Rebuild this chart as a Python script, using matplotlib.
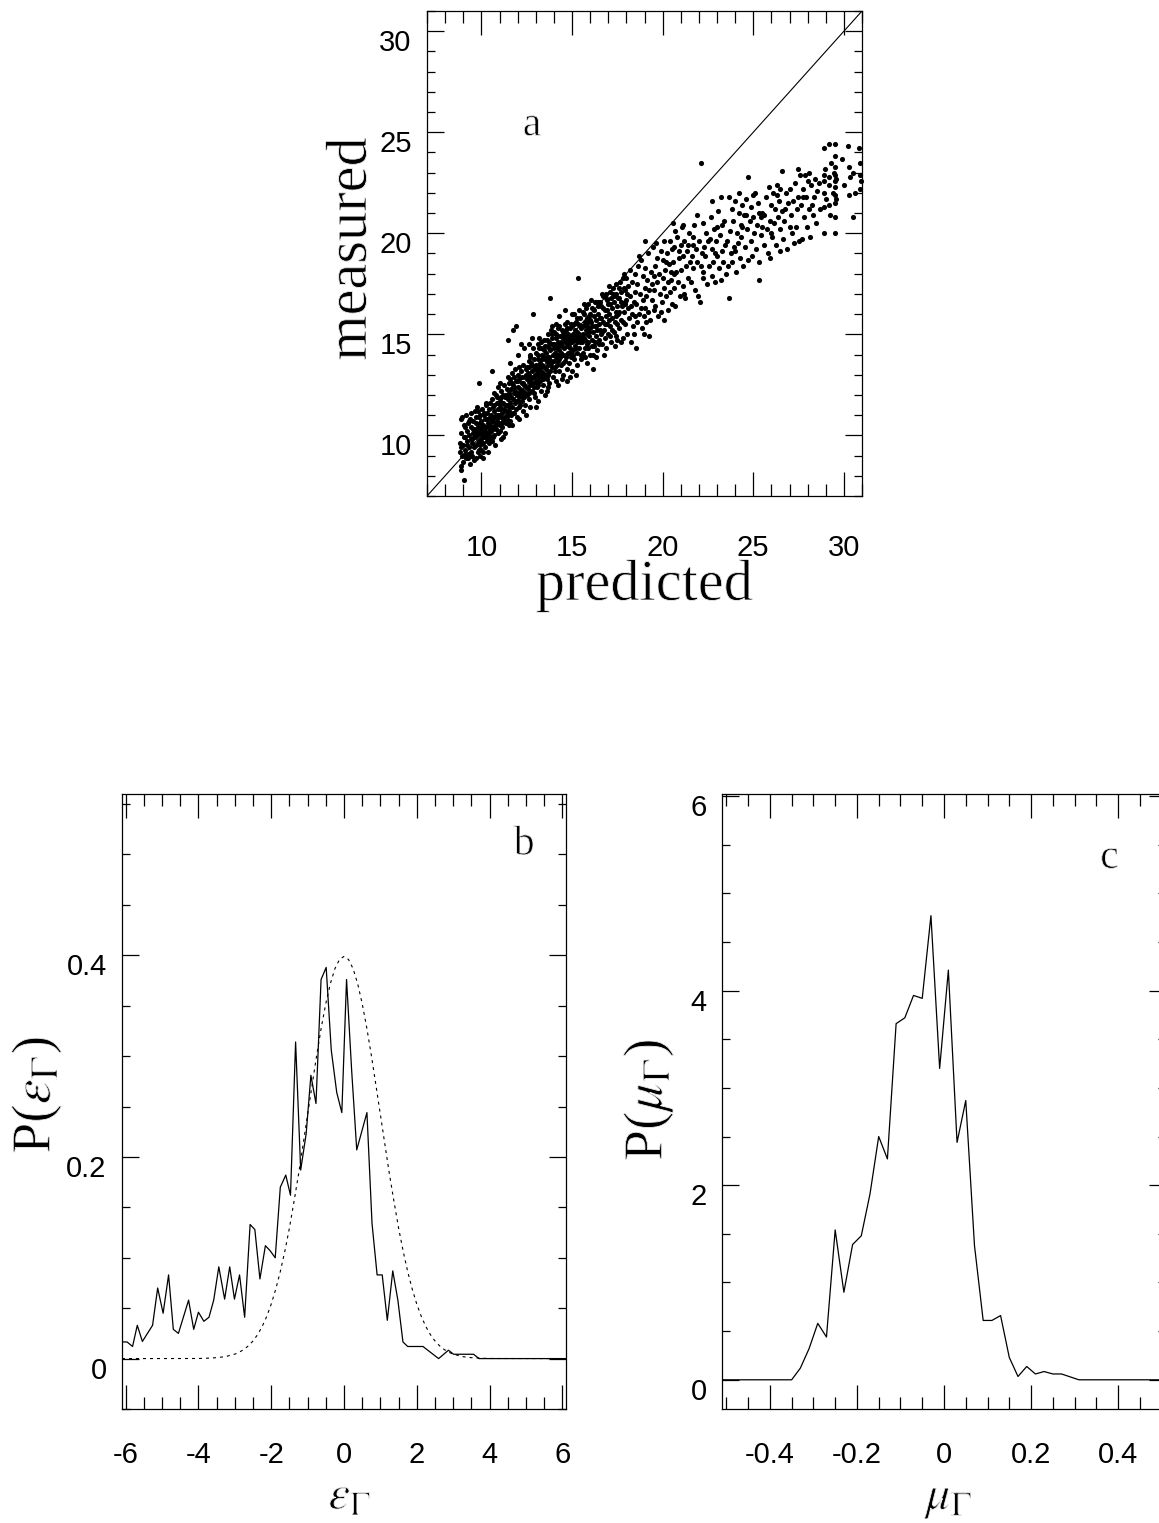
import matplotlib
matplotlib.use('Agg')
import matplotlib.pyplot as plt
from matplotlib import patheffects
from matplotlib.ticker import MultipleLocator, FuncFormatter
from matplotlib.transforms import ScaledTranslation

# ---------------- data ----------------
# panel a: predicted vs measured scatter, (predicted, measured) pairs
pts_09_11 = [
    (8.8, 9.2), (8.8, 9.6), (8.85, 8.3), (8.85, 8.5), (8.9, 9.4), (8.9, 10.1), (8.95, 9.0), (8.95, 10.9), (9.0, 9.5), (9.0, 8.7),
    (9.05, 7.8), (9.05, 10.5), (9.1, 9.9), (9.1, 9.3), (9.15, 11.0), (9.15, 8.9), (9.2, 10.2), (9.2, 9.7), (9.25, 9.1), (9.25, 10.6),
    (9.3, 9.4), (9.3, 10.0), (9.35, 8.6), (9.35, 10.8), (9.4, 9.8), (9.4, 9.2), (9.45, 10.4), (9.45, 11.1), (9.5, 9.6), (9.5, 9.0),
    (9.55, 10.1), (9.55, 10.7), (9.6, 9.4), (9.6, 8.8), (8.9, 10.8),
    (9.6, 10.3), (9.65, 9.9), (9.65, 11.2), (9.7, 9.5), (9.7, 10.6), (9.7, 8.9), (9.75, 10.0), (9.75, 11.4), (9.8, 9.2), (9.8, 10.4),
    (9.85, 9.7), (9.85, 10.9), (9.9, 10.1), (9.9, 9.0), (9.9, 11.0), (9.95, 9.5), (9.95, 10.3), (10.0, 9.8), (10.0, 10.7), (10.0, 9.3),
    (10.05, 10.0), (10.05, 11.3), (10.1, 9.6), (10.1, 10.5), (10.1, 8.9), (10.15, 10.2), (10.15, 11.0), (10.2, 9.4), (10.2, 10.8), (10.2, 9.9),
    (10.25, 10.4), (10.25, 11.5), (10.3, 9.7), (10.3, 10.1), (10.3, 11.1), (10.35, 9.2), (10.35, 10.6), (10.4, 10.0), (10.4, 11.3), (10.4, 9.6),
    (10.45, 10.3), (10.45, 10.9), (10.5, 9.9), (10.5, 11.6), (10.5, 10.5), (9.87, 12.6), (10.0, 10.1), (10.2, 10.2), (9.8, 11.2), (10.1, 9.2),
    (10.55, 10.2), (10.55, 11.0), (10.6, 9.7), (10.6, 10.7), (10.6, 11.8), (10.65, 10.4), (10.65, 9.9), (10.7, 11.2), (10.7, 10.0), (10.7, 12.1),
    (10.75, 10.6), (10.75, 9.5), (10.8, 11.0), (10.8, 10.3), (10.85, 11.6), (10.85, 10.8), (10.9, 10.1), (10.9, 11.3), (10.9, 12.4), (10.95, 10.6),
    (11.0, 11.0), (11.0, 10.2), (11.0, 11.8), (11.05, 10.5), (11.05, 11.4), (11.1, 10.9), (11.1, 9.8), (11.1, 12.2), (11.15, 11.1), (11.15, 10.4),
    (11.2, 11.6), (11.2, 10.7), (11.25, 11.3), (11.25, 12.5), (11.3, 10.9), (11.3, 10.1), (11.3, 11.9), (11.35, 11.2), (11.35, 10.6), (11.4, 11.5),
    (11.4, 12.3), (11.4, 10.8), (11.45, 11.0), (11.45, 11.8), (11.5, 10.5), (11.5, 11.4), (11.5, 12.6), (10.57, 13.2), (10.8, 12.0), (11.2, 9.9),
    (11.0, 12.6), (10.65, 11.4), (11.35, 12.0), (10.95, 11.6), (11.1, 11.6),
]
pts_12_14 = [
    (11.55, 11.2), (11.55, 12.0), (11.6, 10.7), (11.6, 11.6), (11.6, 12.8), (11.65, 11.0), (11.65, 12.3), (11.7, 11.4), (11.7, 10.5), (11.7, 13.1),
    (11.75, 11.8), (11.75, 12.5), (11.8, 11.1), (11.8, 12.1), (11.85, 11.6), (11.85, 13.3), (11.9, 11.3), (11.9, 12.7), (11.95, 12.0), (11.95, 10.9),
    (12.0, 11.7), (12.0, 12.4), (12.0, 13.0), (12.05, 11.4), (12.05, 12.1), (12.1, 11.9), (12.1, 12.8), (12.1, 10.8), (12.15, 12.3), (12.15, 11.5),
    (12.2, 12.0), (12.2, 13.2), (12.25, 11.7), (12.25, 12.6), (12.3, 12.2), (12.3, 11.2), (12.3, 13.5), (12.35, 12.5), (12.35, 11.9), (12.4, 12.9),
    (12.4, 12.1), (12.4, 11.5), (12.45, 12.4), (12.45, 13.3), (12.5, 12.0), (12.5, 12.8), (11.49, 14.7), (11.76, 15.2), (11.9, 15.4), (12.2, 14.5),
    (12.0, 14.0), (11.6, 13.6), (12.35, 14.3), (12.45, 11.0), (11.8, 12.9),
    (12.55, 12.3), (12.55, 13.1), (12.6, 11.8), (12.6, 12.7), (12.6, 13.7), (12.65, 12.1), (12.65, 13.4), (12.7, 12.5), (12.7, 11.4), (12.7, 14.0),
    (12.75, 12.9), (12.75, 13.6), (12.8, 12.2), (12.8, 13.2), (12.85, 12.6), (12.85, 14.3), (12.87, 16.0), (12.9, 12.4), (12.9, 13.8), (12.95, 13.0),
    (12.95, 11.9), (13.0, 12.7), (13.0, 13.5), (13.0, 14.1), (13.05, 12.4), (13.05, 13.1), (13.1, 12.9), (13.1, 13.8), (13.1, 11.7), (13.15, 13.3),
    (13.15, 12.5), (13.2, 13.0), (13.2, 14.3), (13.25, 12.7), (13.25, 13.6), (13.3, 13.2), (13.3, 12.2), (13.3, 14.6), (13.35, 13.5), (13.35, 12.9),
    (13.4, 13.9), (13.4, 13.1), (13.4, 12.5), (13.45, 13.4), (13.45, 14.2), (13.5, 13.0), (13.5, 13.8), (13.5, 12.0), (12.8, 14.8), (13.2, 14.8),
    (12.6, 14.5), (13.0, 11.4), (13.35, 14.0), (12.9, 13.3), (13.1, 14.5),
    (13.55, 13.3), (13.55, 14.1), (13.6, 12.8), (13.6, 13.7), (13.6, 14.7), (13.65, 13.1), (13.65, 14.4), (13.7, 13.5), (13.7, 12.4), (13.7, 15.0),
    (13.75, 13.9), (13.75, 14.6), (13.8, 13.2), (13.8, 14.2), (13.8, 16.8), (13.85, 13.6), (13.85, 15.2), (13.9, 13.4), (13.9, 14.8), (13.95, 14.0),
    (13.95, 12.9), (14.0, 13.7), (14.0, 14.5), (14.0, 15.1), (14.05, 13.4), (14.05, 14.1), (14.1, 13.9), (14.1, 14.8), (14.1, 12.7), (14.15, 14.3),
    (14.15, 13.5), (14.2, 14.0), (14.2, 15.3), (14.25, 13.7), (14.25, 14.6), (14.28, 15.9), (14.3, 14.2), (14.3, 13.2), (14.35, 14.5), (14.35, 13.9),
    (14.4, 14.9), (14.4, 14.1), (14.4, 13.5), (14.45, 14.4), (14.45, 15.2), (14.5, 14.0), (14.5, 14.8), (14.5, 13.0), (13.6, 12.2), (14.2, 12.5),
    (13.9, 15.4), (14.1, 15.5), (14.3, 15.4), (13.75, 12.6), (14.45, 12.8),
]
pts_15_19 = [
    (14.55, 14.3), (14.55, 15.0), (14.6, 13.7), (14.6, 14.6), (14.6, 15.5), (14.65, 14.0), (14.65, 15.2), (14.7, 14.4), (14.7, 13.3), (14.75, 14.8),
    (14.75, 15.6), (14.8, 14.1), (14.8, 15.0), (14.85, 14.5), (14.85, 13.6), (14.9, 14.3), (14.9, 15.3), (14.95, 14.8), (14.95, 13.9), (15.0, 14.6),
    (15.0, 15.4), (15.0, 13.2), (15.05, 14.2), (15.05, 15.0), (15.1, 14.7), (15.1, 13.8), (15.15, 15.2), (15.15, 14.4), (15.2, 14.9), (15.2, 15.6),
    (15.25, 14.1), (15.25, 14.6), (15.3, 15.1), (15.3, 13.5), (15.33, 17.8), (15.35, 14.8), (15.35, 15.5), (15.4, 14.3), (15.4, 15.0), (15.45, 14.6),
    (15.45, 15.8), (15.5, 14.0), (15.5, 15.3), (14.7, 12.7), (15.2, 13.0), (15.0, 16.0), (14.9, 12.9), (15.4, 16.2), (14.6, 16.2), (15.1, 16.0),
    (15.55, 14.6), (15.55, 15.4), (15.6, 14.1), (15.6, 15.0), (15.6, 16.1), (15.65, 14.8), (15.7, 15.6), (15.7, 13.9), (15.75, 15.2), (15.75, 16.3),
    (15.8, 14.5), (15.8, 15.8), (15.85, 15.0), (15.9, 14.3), (15.9, 15.6), (15.9, 16.5), (15.95, 14.9), (16.0, 15.3), (16.0, 14.0), (16.0, 16.0),
    (16.05, 15.6), (16.1, 14.7), (16.1, 16.3), (16.14, 13.3), (16.15, 15.1), (16.2, 15.9), (16.2, 14.4), (16.25, 15.4), (16.3, 16.6), (16.3, 14.9),
    (16.35, 15.7), (16.4, 15.2), (16.4, 14.2), (16.45, 16.0), (16.5, 15.5), (16.5, 14.7), (15.65, 16.5), (16.05, 16.7), (15.85, 13.6), (16.35, 13.9),
    (16.25, 16.6), (15.95, 15.9), (16.45, 16.6), (15.7, 14.3), (16.15, 14.0),
    (16.55, 15.8), (16.6, 15.0), (16.6, 16.4), (16.65, 14.5), (16.7, 15.6), (16.7, 16.9), (16.75, 15.2), (16.8, 16.2), (16.8, 14.8), (16.85, 15.9),
    (16.9, 17.0), (16.9, 14.3), (16.95, 15.5), (17.0, 16.5), (17.0, 15.0), (17.05, 16.0), (17.1, 17.1), (17.1, 15.4), (17.15, 14.6), (17.2, 16.3),
    (17.2, 15.8), (17.25, 17.3), (17.3, 15.1), (17.3, 16.6), (17.35, 15.6), (17.4, 16.1), (17.4, 17.5), (17.45, 14.9), (17.5, 16.4), (17.5, 15.5),
    (16.65, 17.0), (17.05, 17.4), (16.75, 14.0), (17.35, 14.4), (16.95, 16.7), (17.15, 16.8), (16.55, 16.6), (17.45, 17.0),
    (17.55, 16.0), (17.6, 15.3), (17.6, 16.8), (17.65, 17.6), (17.7, 15.7), (17.75, 16.4), (17.8, 17.8), (17.8, 14.8), (17.85, 16.1), (17.9, 17.2),
    (17.95, 15.5), (18.0, 16.7), (18.0, 17.8), (18.05, 15.0), (18.1, 16.3), (18.1, 17.4), (18.15, 15.8), (18.2, 16.9), (18.25, 14.6), (18.3, 16.0),
    (18.3, 17.6), (18.35, 15.4), (18.4, 16.6), (18.45, 18.0), (18.5, 15.9), (18.5, 17.1), (17.7, 14.6), (18.2, 18.2), (17.95, 16.6), (18.4, 15.0),
    (17.6, 17.3), (18.05, 17.0), (18.53, 14.3), (17.85, 18.0), (18.25, 16.4),
    (18.55, 16.5), (18.6, 17.5), (18.6, 15.6), (18.65, 18.4), (18.7, 16.0), (18.75, 17.0), (18.8, 18.7), (18.85, 15.3), (18.9, 16.7), (18.9, 17.9),
    (18.95, 15.9), (19.0, 17.3), (19.0, 16.3), (19.05, 18.3), (19.1, 15.6), (19.1, 16.9), (19.15, 17.7), (19.2, 16.1), (19.2, 19.0), (19.25, 17.2),
    (19.27, 14.9), (19.3, 15.7), (19.35, 18.1), (19.4, 16.7), (19.4, 17.5), (19.45, 19.3), (19.5, 16.2), (19.5, 17.9), (18.7, 18.9), (18.95, 15.0),
    (18.8, 16.3), (19.05, 19.6),
]
pts_dense_extra = [
    (9.02, 9.9), (9.12, 10.4), (9.22, 9.5), (9.32, 10.7), (9.42, 9.0), (9.52, 10.3), (9.62, 9.9), (9.72, 10.9), (9.82, 9.6), (9.92, 10.6),
    (9.08, 9.1), (9.28, 8.9), (9.48, 9.8), (9.68, 10.2), (9.88, 9.3),
    (10.02, 10.4), (10.12, 11.1), (10.22, 10.0), (10.32, 10.8), (10.42, 9.8), (10.52, 10.8), (10.62, 10.3), (10.72, 11.5), (10.82, 10.5), (10.92, 11.0),
    (10.08, 9.9), (10.28, 11.6), (10.48, 10.2), (10.68, 10.9), (10.88, 11.9),
    (11.02, 11.3), (11.12, 10.6), (11.22, 12.0), (11.32, 11.5), (11.42, 11.0), (11.52, 12.1), (11.62, 11.9), (11.72, 11.1), (11.82, 12.4), (11.92, 11.7),
    (11.08, 11.9), (11.28, 10.7), (11.48, 12.9), (11.68, 12.6), (11.88, 12.2),
    (12.02, 12.7), (12.12, 12.1), (12.22, 12.9), (12.32, 12.6), (12.42, 12.0), (12.52, 13.4), (12.62, 13.0), (12.72, 12.8), (12.82, 13.5), (12.92, 12.9),
    (12.08, 13.4), (12.28, 11.9), (12.48, 13.0), (12.68, 13.9), (12.88, 12.1),
    (13.02, 13.3), (13.12, 14.0), (13.22, 13.4), (13.32, 13.8), (13.42, 12.8), (13.52, 14.4), (13.62, 13.9), (13.72, 14.3), (13.82, 13.7), (13.92, 14.5),
    (13.08, 12.6), (13.28, 14.3), (13.48, 14.7), (13.68, 13.0), (13.88, 15.0),
    (14.02, 14.3), (14.12, 15.0), (14.22, 14.4), (14.32, 14.9), (14.42, 14.6), (14.52, 15.1), (14.62, 14.9), (14.72, 15.3), (14.82, 14.7), (14.92, 15.5),
    (14.08, 13.2), (14.28, 13.8), (14.48, 13.6), (14.68, 13.9), (14.88, 14.1),
    (15.02, 14.9), (15.12, 15.5), (15.22, 14.3), (15.32, 14.8), (15.42, 15.4), (15.52, 14.8), (15.62, 15.4), (15.72, 14.7), (15.82, 15.4), (15.92, 15.1),
    (15.08, 14.0), (15.28, 15.8), (15.48, 13.8), (15.68, 16.0), (15.88, 14.6),
    (16.02, 15.7), (16.12, 15.4), (16.22, 16.2), (16.32, 15.4), (16.42, 16.4), (16.52, 15.2), (16.62, 15.8), (16.72, 16.3), (16.82, 15.5), (16.92, 16.2),
    (16.08, 14.4), (16.28, 14.6), (16.48, 14.5), (16.68, 15.1), (16.88, 16.8),
    (17.02, 15.7), (17.12, 16.5), (17.22, 15.2), (17.32, 16.9), (17.42, 15.9), (17.52, 16.8), (17.62, 16.1), (17.72, 17.1), (17.82, 15.6), (17.92, 16.5),
    (17.08, 14.9), (17.28, 17.0), (17.48, 14.7), (17.68, 16.6), (17.88, 17.3),
]
pts_20_25 = [
    (19.55, 17.2), (19.6, 18.4), (19.6, 16.4), (19.65, 19.5), (19.7, 17.6), (19.75, 15.9), (19.8, 18.0), (19.85, 17.0), (19.9, 19.1), (19.95, 16.6),
    (20.0, 17.8), (20.0, 18.7), (20.05, 15.7), (20.1, 17.3), (20.1, 19.6), (20.15, 18.2), (20.2, 16.9), (20.25, 19.0), (20.3, 17.6), (20.3, 16.2),
    (20.35, 18.5), (20.4, 19.6), (20.4, 17.1), (20.45, 18.1), (20.5, 16.5), (20.5, 19.2), (19.7, 18.8), (20.2, 18.6), (19.9, 16.1), (20.45, 17.7),
    (20.55, 18.6), (20.59, 20.5), (20.6, 17.3), (20.65, 19.3), (20.7, 16.4), (20.75, 18.1), (20.8, 19.8), (20.85, 17.6), (20.9, 18.8), (20.95, 16.9),
    (21.0, 19.4), (21.0, 18.2), (21.05, 20.3), (21.1, 17.4), (21.15, 18.9), (21.2, 19.6), (21.25, 16.8), (21.3, 18.4), (21.35, 19.1), (21.4, 17.8),
    (21.45, 20.0), (21.5, 18.6), (20.7, 20.1), (21.2, 17.0), (20.9, 19.1), (21.4, 19.4), (20.6, 18.0), (21.1, 20.4),
    (21.55, 17.6), (21.6, 18.9), (21.65, 19.8), (21.7, 18.3), (21.75, 20.4), (21.8, 17.2), (21.85, 19.2), (21.9, 18.6), (21.95, 16.9), (22.0, 19.6),
    (22.06, 16.6), (22.1, 23.5), (22.1, 18.4), (22.15, 19.0), (22.2, 20.5), (22.25, 17.8), (22.3, 19.3), (22.35, 18.9), (22.4, 20.0), (22.45, 17.5),
    (22.5, 19.6), (21.7, 19.4), (22.2, 18.1), (21.9, 20.9),
    (22.55, 18.4), (22.6, 19.7), (22.65, 20.8), (22.7, 17.9), (22.75, 19.2), (22.8, 18.6), (22.85, 20.2), (22.9, 17.6), (22.95, 19.6), (23.0, 18.9),
    (23.05, 21.1), (23.1, 18.3), (23.15, 19.9), (23.2, 17.7), (23.25, 20.4), (23.3, 19.1), (23.35, 18.6), (23.4, 20.6), (23.45, 19.4), (23.5, 18.0),
    (22.7, 21.6), (23.2, 21.8), (23.0, 20.3), (22.9, 19.0),
    (23.55, 19.6), (23.6, 18.4), (23.66, 16.8), (23.7, 20.1), (23.75, 19.0), (23.8, 21.2), (23.85, 18.6), (23.9, 20.6), (23.95, 19.3), (24.0, 21.6),
    (24.05, 18.1), (24.1, 20.0), (24.15, 19.5), (24.2, 21.0), (24.25, 18.8), (24.3, 20.4), (24.35, 19.8), (24.4, 21.4), (24.45, 18.4), (24.5, 20.9),
    (23.65, 21.8), (24.2, 22.0), (24.0, 19.1), (24.4, 20.3),
    (24.55, 19.3), (24.6, 21.7), (24.65, 20.2), (24.7, 18.7), (24.73, 22.8), (24.8, 20.6), (24.85, 19.6), (24.9, 21.3), (24.95, 18.9), (25.0, 20.8),
    (25.05, 20.0), (25.1, 22.0), (25.15, 19.2), (25.2, 20.4), (25.25, 21.5), (25.3, 18.6), (25.33, 17.7), (25.4, 20.8), (25.45, 19.9), (25.5, 21.0),
    (25.5, 20.3), (24.6, 20.9), (25.0, 21.9), (25.3, 21.0),
]
pts_26_31 = [
    (25.6, 19.4), (25.6, 20.9), (25.7, 21.8), (25.75, 20.2), (25.8, 19.0), (25.85, 22.3), (25.9, 20.6), (26.0, 21.4), (26.05, 19.8), (26.1, 22.0),
    (26.15, 20.5), (26.2, 21.2), (26.25, 19.4), (26.3, 22.4), (26.35, 20.8), (26.4, 21.6), (26.45, 20.2), (26.5, 19.1), (26.0, 20.0), (26.3, 21.9),
    (25.95, 18.8), (26.5, 22.2),
    (26.57, 23.1), (26.6, 21.1), (26.65, 19.7), (26.7, 20.6), (26.8, 22.0), (26.85, 19.2), (26.9, 21.5), (27.0, 20.3), (27.05, 22.2), (27.1, 20.9),
    (27.2, 21.6), (27.25, 19.5), (27.3, 22.5), (27.35, 20.3), (27.4, 21.2), (27.45, 23.2), (27.5, 19.6), (26.75, 21.2), (27.15, 20.0), (27.45, 21.8),
    (27.6, 22.9), (27.65, 21.4), (27.7, 19.7), (27.75, 22.2), (27.8, 20.8), (27.85, 22.9), (27.9, 21.8), (27.95, 20.3), (28.0, 22.6), (28.05, 21.2),
    (28.1, 23.0), (28.15, 19.8), (28.2, 22.4), (28.3, 20.9), (28.35, 21.8), (28.4, 22.7), (28.45, 20.5), (28.5, 22.1), (27.75, 21.8), (28.25, 21.4),
    (28.6, 22.5), (28.7, 21.2), (28.9, 24.2), (28.9, 22.9), (28.9, 22.6), (28.9, 22.0), (28.9, 21.3), (28.9, 20.0), (28.95, 23.2), (29.0, 21.7),
    (29.2, 24.4), (29.2, 22.8), (29.2, 22.4), (29.2, 21.4), (29.25, 20.9), (29.3, 23.5), (29.4, 22.0), (29.5, 24.4), (29.5, 23.8), (29.5, 23.3),
    (29.5, 22.9), (29.5, 22.6), (29.5, 22.3), (29.5, 21.9), (29.5, 21.5), (29.5, 20.8), (29.5, 20.0), (29.45, 23.0), (29.55, 22.7), (29.55, 21.7),
    (30.2, 24.3), (30.3, 23.3), (30.35, 22.8), (30.3, 21.9), (30.5, 23.0), (30.6, 22.0), (30.5, 20.8), (30.85, 24.2), (30.9, 23.5), (30.9, 22.9),
    (30.95, 22.6), (30.9, 22.2), (30.0, 22.4), (29.9, 23.7),
]
diag_ends = [7, 31]

# panel b: P(eps_Gamma) histogram line and unit gaussian (dotted)
eps_x = [-6.1, -5.96, -5.81, -5.68, -5.54, -5.26, -5.12, -4.97, -4.82, -4.69, -4.55, -4.27, -4.13, -4.0, -3.85,
         -3.71, -3.58, -3.44, -3.28, -3.14, -3.01, -2.87, -2.73, -2.58, -2.45, -2.31, -2.16, -2.03, -1.89, -1.75,
         -1.60, -1.47, -1.33, -1.19, -1.04, -0.91, -0.77, -0.63, -0.49, -0.35, -0.20, -0.06, 0.07, 0.21, 0.35,
         0.63, 0.77, 0.91, 1.05, 1.19, 1.34, 1.48, 1.62, 1.75, 2.17, 2.60, 2.87, 3.01, 3.56, 3.71, 6.1]
eps_p = [0.0165, 0.0165, 0.012, 0.033, 0.017, 0.033, 0.070, 0.045, 0.083, 0.029, 0.025, 0.058, 0.029, 0.046, 0.037,
         0.041, 0.058, 0.091, 0.059, 0.091, 0.059, 0.083, 0.041, 0.133, 0.128, 0.079, 0.112, 0.107, 0.100, 0.170,
         0.182, 0.162, 0.314, 0.187, 0.223, 0.281, 0.253, 0.376, 0.388, 0.306, 0.264, 0.244, 0.376, 0.286, 0.207,
         0.244, 0.134, 0.083, 0.083, 0.038, 0.087, 0.058, 0.0165, 0.012, 0.012, 0.0, 0.0083, 0.0043, 0.0043, 0.0, 0.0]
gauss_abs_x = [0.0, 0.125, 0.25, 0.375, 0.5, 0.625, 0.75, 0.875, 1.0, 1.125, 1.25, 1.375, 1.5, 1.625, 1.75, 1.875,
               2.0, 2.125, 2.25, 2.375, 2.5, 2.625, 2.75, 2.875, 3.0, 3.25, 3.5, 3.75, 4.0, 6.1]
gauss_p = [0.3989, 0.3958, 0.3867, 0.3719, 0.3521, 0.3282, 0.3011, 0.2717, 0.2420, 0.2121, 0.1826, 0.1555, 0.1295,
           0.1066, 0.0863, 0.0689, 0.0540, 0.0417, 0.0317, 0.0237, 0.0175, 0.0127, 0.0091, 0.0064, 0.0044, 0.0020,
           0.0009, 0.0004, 0.0001, 0.0]

# panel c: P(mu_Gamma)
mu_x = [-0.51, -0.35, -0.33, -0.31, -0.29, -0.27, -0.25, -0.23, -0.21, -0.19, -0.17, -0.15, -0.13, -0.11, -0.09,
        -0.07, -0.05, -0.03, -0.01, 0.01, 0.03, 0.05, 0.07, 0.09, 0.11, 0.13, 0.15, 0.17, 0.19, 0.21, 0.23, 0.25,
        0.27, 0.29, 0.31, 0.51]
mu_p = [0.0, 0.0, 0.12, 0.32, 0.58, 0.44, 1.54, 0.90, 1.39, 1.48, 1.91, 2.50, 2.27, 3.66, 3.72,
        3.95, 3.92, 4.77, 3.20, 4.21, 2.44, 2.87, 1.38, 0.61, 0.61, 0.66, 0.23, 0.034, 0.137, 0.06, 0.085, 0.06,
        0.06, 0.03, 0.0, 0.0]

# ---------------- figure ----------------
W, H = 1159, 1523
plt.rcParams['font.family'] = ['Liberation Sans', 'DejaVu Sans']
plt.rcParams['mathtext.fontset'] = 'stix'
fig = plt.figure(figsize=(W / 100, H / 100), dpi=100)
SERIF = ['Liberation Serif', 'DejaVu Serif']
THIN = [patheffects.Normal(), patheffects.Stroke(linewidth=0.6, foreground='white')]


def px_axes(l, t, r, b):
    return fig.add_axes([l / W, 1 - b / H, (r - l) / W, (b - t) / H])


def style(ax, xlim, ylim, xmaj, xmin, ymaj, ymin, xpad):
    ax.set_xlim(*xlim)
    ax.set_ylim(*ylim)
    ax.xaxis.set_major_locator(MultipleLocator(xmaj))
    ax.xaxis.set_minor_locator(MultipleLocator(xmin))
    ax.yaxis.set_major_locator(MultipleLocator(ymaj))
    ax.yaxis.set_minor_locator(MultipleLocator(ymin))
    fmt = FuncFormatter(lambda v, p: ('%g' % round(v, 6)).replace('\u2212', '-'))
    ax.xaxis.set_major_formatter(fmt)
    ax.yaxis.set_major_formatter(fmt)
    for s in ax.spines.values():
        s.set_linewidth(0.9)
        s.set_color('black')
    ax.tick_params(which='both', direction='in', top=True, right=True, width=0.9, color='black',
                   labelsize=21, labelcolor='black')
    ax.tick_params(axis='x', which='major', length=17, pad=xpad)
    ax.tick_params(axis='x', which='minor', length=8.6)
    ax.tick_params(axis='y', which='major', length=12.2, pad=11)
    ax.tick_params(axis='y', which='minor', length=6.1)


def fig_text(xpx, ypx, s, size, **kw):
    return fig.text(xpx / W, 1 - ypx / H, s, fontsize=size, family=SERIF, color='black',
                    path_effects=THIN, **kw)


# panel a
ax_a = px_axes(427, 11, 862, 496)
style(ax_a, (7, 31), (7, 31), 5, 1, 5, 1, 27)
groups = (pts_09_11, pts_12_14, pts_15_19, pts_dense_extra, pts_20_25, pts_26_31)
pred = [p[0] for grp in groups for p in grp]
meas = [p[1] for grp in groups for p in grp]
ax_a.plot(pred, meas, 'o', ms=3.7, mew=0, color='black', clip_on=False)
ax_a.plot(diag_ends, diag_ends, '-', color='black', lw=0.8)
ax_a.text(12.8, 24.85, 'a', fontsize=30, family=SERIF, ha='center', va='baseline', path_effects=THIN)

# panel b
ax_b = px_axes(122, 794, 566, 1409)
style(ax_b, (-6.1, 6.1), (-0.05, 0.56), 2, 0.5, 0.2, 0.05, 23)
ax_b.plot(eps_x, eps_p, '-', color='black', lw=0.9)
gx = [-v for v in gauss_abs_x[::-1]] + gauss_abs_x[1:]
gy = gauss_p[::-1] + gauss_p[1:]
ax_b.plot(gx, gy, color='black', lw=0.8, linestyle=(0, (2.7, 3.6)))
ax_b.text(4.95, 0.50, 'b', fontsize=30, family=SERIF, ha='center', va='baseline', path_effects=THIN)

# panel c
ax_c = px_axes(722, 794, 1166, 1409)
style(ax_c, (-0.51, 0.51), (-0.3, 6.02), 0.2, 0.05, 2, 0.5, 23)
ax_c.plot(mu_x, mu_p, '-', color='black', lw=0.9)
ax_c.text(0.38, 5.26, 'c', fontsize=30, family=SERIF, ha='center', va='baseline', path_effects=THIN)

# axis titles
fig_text(644.5, 600, 'predicted', 42, ha='center', va='baseline')
fig_text(366, 249, 'measured', 42, ha='center', va='baseline', rotation=90, rotation_mode='anchor')
fig_text(350, 1509, r'$\varepsilon_{\Gamma}$', 35, ha='center', va='baseline')
fig_text(950, 1509, r'$\mu_{\Gamma}$', 35, ha='center', va='baseline')
fig_text(50, 1095, r'P($\varepsilon_{\Gamma}$)', 40, ha='center', va='baseline', rotation=90, rotation_mode='anchor')
fig_text(662, 1100, r'P($\mu_{\Gamma}$)', 40, ha='center', va='baseline', rotation=90, rotation_mode='anchor')

# IDL-like: y tick labels sit slightly below their ticks
fig.canvas.draw()
off = ScaledTranslation(0, -0.09, fig.dpi_scale_trans)
for ax in (ax_a, ax_b, ax_c):
    for t in ax.yaxis.get_major_ticks():
        t.label1.set_transform(t.label1.get_transform() + off)

fig.savefig('out.png', dpi=100, facecolor='white')
